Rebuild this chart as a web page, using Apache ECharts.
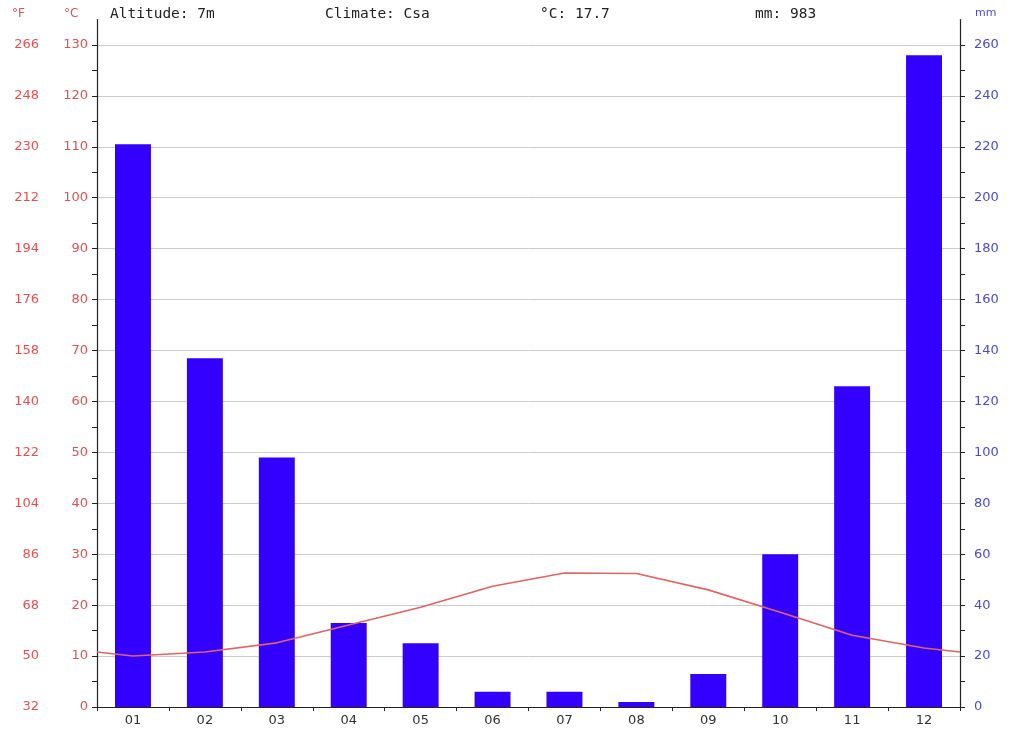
<!DOCTYPE html>
<html>
<head>
<meta charset="utf-8">
<script src="https://cdn.jsdelivr.net/npm/echarts@6/dist/echarts.min.js"></script>
<style>html,body{margin:0;padding:0;background:#fff}#c{width:1010px;height:735px}</style>
</head>
<body>
<div id="c"></div>
<script>
const months = ['01','02','03','04','05','06','07','08','09','10','11','12'];
const precipMm = [221, 137, 98, 33, 25, 6, 6, 2, 13, 60, 126, 256];
const tempC = [10.0, 10.8, 12.6, 16.1, 19.6, 23.7, 26.3, 26.2, 23.0, 18.6, 14.1, 11.6];
const tempEdgeC = 10.8; // value where the line meets both side axes
const cTicks = [0,10,20,30,40,50,60,70,80,90,100,110,120,130];
const fTicks = [32,50,68,86,104,122,140,158,176,194,212,230,248,266];
const mmTicks = [0,20,40,60,80,100,120,140,160,180,200,220,240,260];
const header = ['Altitude: 7m', 'Climate: Csa', '°C: 17.7', 'mm: 983'];

const cMinor = []; for (let v = 0; v <= 130; v += 5) cMinor.push(v);
const mmMinor = []; for (let v = 0; v <= 260; v += 10) mmMinor.push(v);

const linePts = [[0, tempEdgeC]].concat(tempC.map((t, i) => [i + 0.5, t])).concat([[12, tempEdgeC]]);

const RED = '#e05252', BLUE = '#4b4bd0';
const lblFont = 'DejaVu Sans';

const chart = echarts.init(document.getElementById('c'));
chart.setOption({
  animation: false,
  backgroundColor: '#fff',
  grid: { left: 97, right: 50, top: 19.5, bottom: 28 },
  xAxis: [
    { type: 'category', data: months, boundaryGap: true,
      axisLine: { lineStyle: { color: '#222', width: 1.2 } },
      axisTick: { show: true, length: 4, lineStyle: { color: '#222' } },
      axisLabel: { color: '#333', fontSize: 13, fontFamily: lblFont, margin: 7 },
      splitLine: { show: false } },
    { type: 'value', min: 0, max: 12, show: false }
  ],
  yAxis: [
    { type: 'value', min: 0, max: 135, interval: 10, position: 'left',
      axisLine: { show: true, lineStyle: { color: '#222', width: 1.2 } },
      axisTick: { show: true, length: 5, customValues: cMinor, lineStyle: { color: '#222' } },
      axisLabel: { color: RED, fontSize: 13, fontFamily: lblFont, margin: 9, customValues: cTicks },
      splitLine: { show: false } },
    { type: 'value', min: 0, max: 135, interval: 10, position: 'left', offset: 58,
      axisLine: { show: false }, axisTick: { show: false },
      splitLine: { show: true, showMaxLine: false, lineStyle: { color: '#cccccc', width: 1 } },
      axisLabel: { color: RED, fontSize: 13, fontFamily: lblFont, margin: 0, customValues: cTicks,
        formatter: v => { const i = cTicks.indexOf(v); return i >= 0 ? String(fTicks[i]) : ''; } } },
    { type: 'value', min: 0, max: 270, interval: 20, position: 'right',
      axisLine: { show: true, lineStyle: { color: '#222', width: 1.2 } },
      axisTick: { show: true, length: 5, customValues: mmMinor, lineStyle: { color: '#222' } },
      axisLabel: { color: BLUE, fontSize: 13, fontFamily: lblFont, margin: 14, customValues: mmTicks },
      splitLine: { show: false } }
  ],
  series: [
    { type: 'bar', xAxisIndex: 0, yAxisIndex: 2, data: precipMm, barWidth: '50%',
      itemStyle: { color: '#3300ff' }, z: 2 },
    { type: 'line', xAxisIndex: 1, yAxisIndex: 0, data: linePts, showSymbol: false, smooth: false,
      lineStyle: { color: '#e06464', width: 1.6 }, z: 3 }
  ],
  graphic: [
    { type: 'text', left: 12, top: 8, style: { text: '°F', fill: RED, font: '12px DejaVu Sans' } },
    { type: 'text', left: 64, top: 8, style: { text: '°C', fill: RED, font: '12px DejaVu Sans' } },
    { type: 'text', left: 975, top: 8, style: { text: 'mm', fill: BLUE, font: '11px DejaVu Sans' } },
    { type: 'text', left: 110, top: 7, style: { text: header[0], fill: '#222', font: '14.5px DejaVu Sans Mono' } },
    { type: 'text', left: 325, top: 7, style: { text: header[1], fill: '#222', font: '14.5px DejaVu Sans Mono' } },
    { type: 'text', left: 540, top: 7, style: { text: header[2], fill: '#222', font: '14.5px DejaVu Sans Mono' } },
    { type: 'text', left: 755, top: 7, style: { text: header[3], fill: '#222', font: '14.5px DejaVu Sans Mono' } }
  ]
});
</script>
</body>
</html>
